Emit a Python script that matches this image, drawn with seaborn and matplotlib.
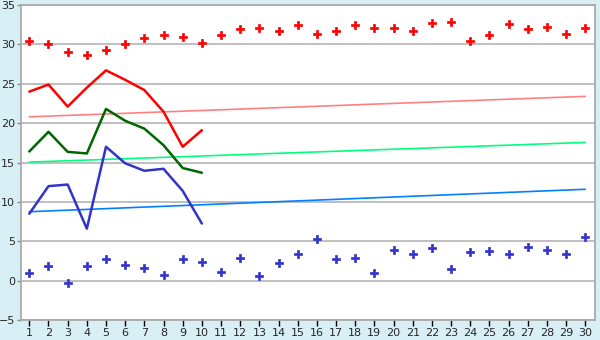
import matplotlib
matplotlib.use("Agg")
import matplotlib.pyplot as plt
import seaborn as sns
import pandas as pd
import numpy as np

days = list(range(1, 31))
max_pts = [30.4, 30.0, 29.0, 28.6, 29.3, 30.1, 30.8, 31.2, 30.9, 30.2,
           31.2, 31.9, 32.1, 31.7, 32.4, 31.3, 31.7, 32.4, 32.1, 32.1,
           31.7, 32.7, 32.8, 30.4, 31.2, 32.6, 31.9, 32.2, 31.3, 32.1]
min_pts = [1.0, 1.8, -0.25, 1.9, 2.7, 2.0, 1.65, 0.76, 2.7, 2.4,
           1.15, 2.9, 0.64, 2.2, 3.4, 5.3, 2.8, 2.9, 1.0, 3.9,
           3.4, 4.1, 1.5, 3.6, 3.8, 3.4, 4.3, 3.9, 3.4, 5.6]
line_days = list(range(1, 11))
red_line = [24.0, 24.9, 22.1, 24.5, 26.7, 25.5, 24.2, 21.45, 17.0, 19.1]
green_line = [16.4, 18.9, 16.35, 16.15, 21.8, 20.3, 19.3, 17.2, 14.3, 13.7]
blue_line = [8.5, 12.0, 12.2, 6.6, 17.0, 14.9, 13.95, 14.2, 11.4, 7.25]
trend_days = [1, 30]
pink_trend = [20.8, 23.4]
lgreen_trend = [15.05, 17.55]
lblue_trend = [8.75, 11.6]

sns.set_theme(style="white")
plt.rcParams['font.family'] = ['DejaVu Sans']

fig = plt.figure(figsize=(6, 3.4), dpi=100, facecolor="#D9EFF6")
ax = fig.add_axes([0.0345, 0.0588, 0.9575, 0.9265])
ax.set_facecolor("white")

for y in range(-5, 36, 5):
    ax.axhline(y, color="#B4B4B4", lw=1.2, zorder=0)

sns.lineplot(x=trend_days, y=pink_trend, color="#FF8080", lw=1.2, ax=ax)
sns.lineplot(x=trend_days, y=lgreen_trend, color="#00FF80", lw=1.2, ax=ax)
sns.lineplot(x=trend_days, y=lblue_trend, color="#0080FF", lw=1.2, ax=ax)

sns.lineplot(x=line_days, y=red_line, color="#FF0000", lw=1.8, ax=ax)
sns.lineplot(x=line_days, y=green_line, color="#006600", lw=1.8, ax=ax)
sns.lineplot(x=line_days, y=blue_line, color="#3333CC", lw=1.8, ax=ax)

sns.scatterplot(x=days, y=max_pts, color="#FF0000", marker="P", s=26,
                linewidth=0.5, edgecolor="#FF0000", ax=ax, zorder=5)
sns.scatterplot(x=days, y=min_pts, color="#3333CC", marker="P", s=26,
                linewidth=0.5, edgecolor="#3333CC", ax=ax, zorder=5)

ax.set_xlim(0.55, 30.52)
ax.set_ylim(-5, 35)
ax.set_xticks(days)
ax.set_xticklabels([str(d) for d in days])
ax.set_yticks(range(-5, 36, 5))
ax.tick_params(axis="x", direction="out", length=4, width=1, color="black",
               labelsize=8, pad=2)
ax.tick_params(axis="y", direction="out", length=3, width=1, color="#888888",
               labelsize=8, pad=1)
ax.tick_params(bottom=True, left=True)
for s in ax.spines.values():
    s.set_color("#AAAAAA")
    s.set_linewidth(1.3)
ax.set_xlabel("")
ax.set_ylabel("")

fig.savefig("out.png", dpi=100, facecolor=fig.get_facecolor())
